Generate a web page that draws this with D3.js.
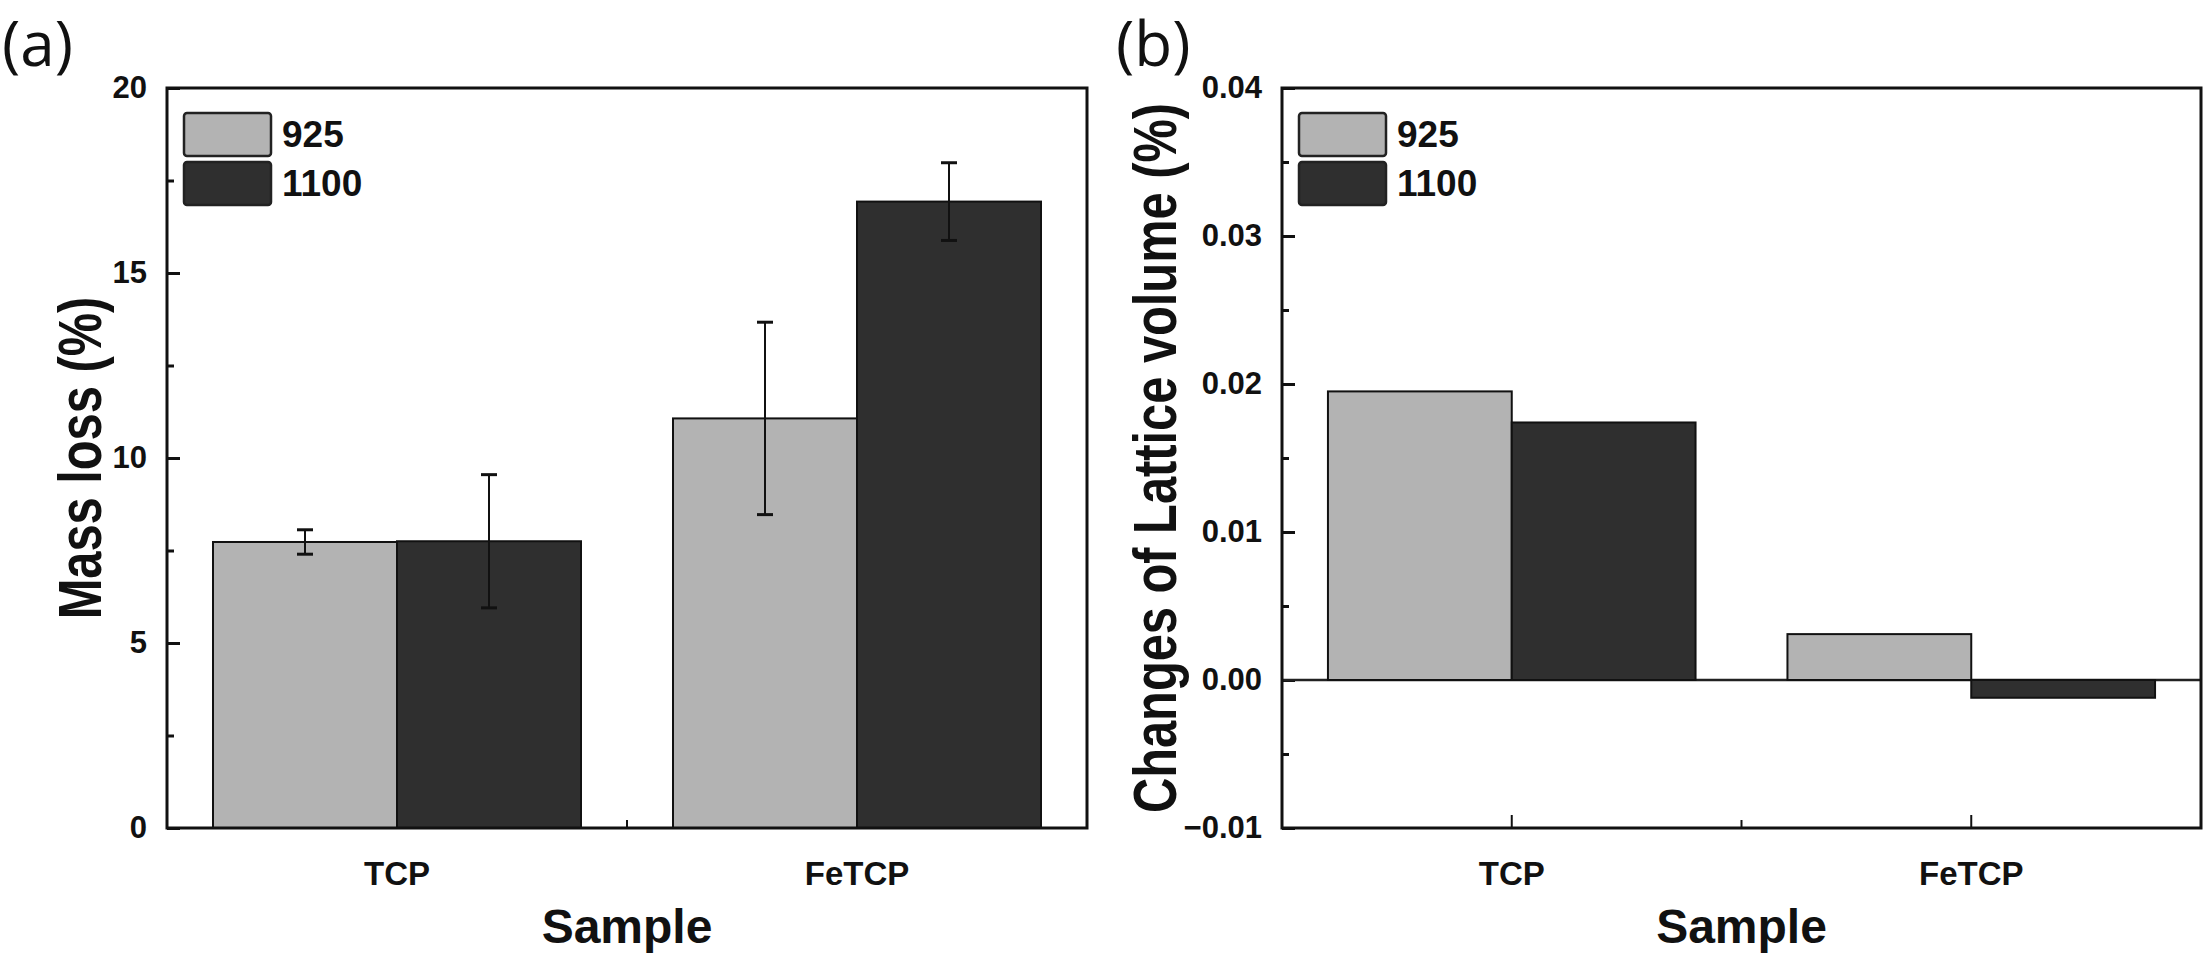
<!DOCTYPE html>
<html>
<head>
<meta charset="utf-8">
<script src="https://cdn.jsdelivr.net/npm/d3@7"></script>
<style>
  body { margin: 0; background: #fff; }
  text { font-family: "Liberation Sans", Arial, sans-serif; font-weight: bold; fill: #111; }
</style>
</head>
<body>
<div id="chart"></div>
<script>
// data
const categories = ["TCP", "FeTCP"];
const series = ["925", "1100"];
const massLoss925 = [7.73, 11.07];
const massLoss1100 = [7.75, 16.93];
const massErr925 = [0.33, 2.6];
const massErr1100 = [1.8, 1.05];
const lattice925 = [0.0195, 0.0031];
const lattice1100 = [0.0174, -0.0012];
const massTicks = [0, 5, 10, 15, 20];
const massMinor = [2.5, 7.5, 12.5, 17.5];
const latticeTicks = [-0.01, 0, 0.01, 0.02, 0.03, 0.04];
const latticeMinor = [-0.005, 0.005, 0.015, 0.025, 0.035];

const colors = { "925": "#b3b3b3", "1100": "#2f2f2f" };

const width = 2205, height = 957;

const svg = d3.select("#chart")
  .append("svg")
  .attr("width", width)
  .attr("height", height);

function drawPanel(p) {
  const g = svg.append("g");

  const x = d3.scaleBand()
    .domain(categories)
    .range([p.left, p.right]);

  const xSub = d3.scaleBand()
    .domain(series)
    .range([x.bandwidth() * 0.1, x.bandwidth() * 0.9]);

  const y = d3.scaleLinear()
    .domain(p.domain)
    .range([p.bottom, p.top]);

  // y axis, ticks pointing inward
  const yAxis = d3.axisLeft(y)
    .tickValues(p.ticks)
    .tickSize(-13)
    .tickPadding(20)
    .tickFormat(p.fmt);
  const yg = g.append("g")
    .attr("transform", `translate(${p.left},0)`)
    .call(yAxis);
  yg.select(".domain").remove();
  yg.selectAll(".tick line").attr("stroke", "#111").attr("stroke-width", 3);
  yg.selectAll("text")
    .attr("font-size", 31)
    .attr("font-family", "Liberation Sans, Arial, sans-serif")
    .attr("font-weight", "bold")
    .attr("fill", "#111");

  const yMinor = g.append("g")
    .attr("transform", `translate(${p.left},0)`)
    .call(d3.axisLeft(y).tickValues(p.minor).tickSize(-7).tickFormat(""));
  yMinor.select(".domain").remove();
  yMinor.selectAll(".tick line").attr("stroke", "#111").attr("stroke-width", 3);

  // x axis
  const xAxis = d3.axisBottom(x)
    .tickSize(-13)
    .tickPadding(34);
  const xg = g.append("g")
    .attr("transform", `translate(0,${p.bottom})`)
    .call(xAxis);
  xg.select(".domain").remove();
  xg.selectAll(".tick line").attr("stroke", "#111").attr("stroke-width", 2);
  xg.selectAll("text")
    .attr("font-size", 33)
    .attr("font-family", "Liberation Sans, Arial, sans-serif")
    .attr("font-weight", "bold")
    .attr("fill", "#111");

  // minor tick between the two samples
  g.append("line")
    .attr("x1", x(categories[1]))
    .attr("x2", x(categories[1]))
    .attr("y1", p.bottom)
    .attr("y2", p.bottom - 8)
    .attr("stroke", "#111")
    .attr("stroke-width", 2);

  // zero line
  if (p.domain[0] < 0) {
    g.append("line")
      .attr("x1", p.left)
      .attr("x2", p.right)
      .attr("y1", y(0))
      .attr("y2", y(0))
      .attr("stroke", "#222")
      .attr("stroke-width", 2.5);
  }

  // bars
  const rows = [];
  categories.forEach((c, i) => {
    series.forEach((s, j) => {
      rows.push({ cat: c, ser: s, value: p.values[j][i], err: p.errors ? p.errors[j][i] : null });
    });
  });

  g.selectAll("rect.bar")
    .data(rows)
    .join("rect")
    .attr("class", "bar")
    .attr("x", d => x(d.cat) + xSub(d.ser))
    .attr("width", xSub.bandwidth())
    .attr("y", d => Math.min(y(d.value), y(0)))
    .attr("height", d => Math.abs(y(d.value) - y(0)))
    .attr("fill", d => colors[d.ser])
    .attr("stroke", "#111")
    .attr("stroke-width", 2);

  // error bars
  if (p.errors) {
    const eb = g.selectAll("g.err")
      .data(rows)
      .join("g")
      .attr("class", "err")
      .attr("transform", d => `translate(${x(d.cat) + xSub(d.ser) + xSub.bandwidth() / 2},0)`);
    eb.append("line")
      .attr("y1", d => y(d.value + d.err))
      .attr("y2", d => y(d.value - d.err))
      .attr("stroke", "#111")
      .attr("stroke-width", 2);
    eb.append("line")
      .attr("x1", -8).attr("x2", 8)
      .attr("y1", d => y(d.value + d.err))
      .attr("y2", d => y(d.value + d.err))
      .attr("stroke", "#111")
      .attr("stroke-width", 3);
    eb.append("line")
      .attr("x1", -8).attr("x2", 8)
      .attr("y1", d => y(d.value - d.err))
      .attr("y2", d => y(d.value - d.err))
      .attr("stroke", "#111")
      .attr("stroke-width", 3);
  }

  // frame
  g.append("rect")
    .attr("x", p.left)
    .attr("y", p.top)
    .attr("width", p.right - p.left)
    .attr("height", p.bottom - p.top)
    .attr("fill", "none")
    .attr("stroke", "#111")
    .attr("stroke-width", 3);

  // legend
  const leg = g.selectAll("g.leg")
    .data(series)
    .join("g")
    .attr("class", "leg")
    .attr("transform", (d, i) => `translate(${p.left + 17},${113 + i * 49})`);
  leg.append("rect")
    .attr("width", 87)
    .attr("height", 43)
    .attr("rx", 3)
    .attr("fill", d => colors[d])
    .attr("stroke", "#222")
    .attr("stroke-width", 2.5);
  leg.append("text")
    .attr("x", 98)
    .attr("y", 34)
    .attr("font-size", 37)
    .text(d => d);

  // axis titles
  g.append("text")
    .attr("transform", `translate(${(p.left + p.right) / 2},943)`)
    .attr("text-anchor", "middle")
    .attr("font-size", 48)
    .text("Sample");

  g.append("text")
    .attr("transform", `translate(${p.titleX},${(p.top + p.bottom) / 2}) rotate(-90) scale(0.8,1)`)
    .attr("text-anchor", "middle")
    .attr("font-size", 61)
    .text(p.yTitle);

  // panel letter
  g.append("text")
    .attr("x", p.letterX)
    .attr("y", 66)
    .attr("font-size", 62)
    .attr("fill", "#222")
    .style("font-family", "'Open Sans', sans-serif")
    .style("font-weight", "normal")
    .text(p.letter);
}

drawPanel({
  left: 167, right: 1087, top: 88, bottom: 828,
  domain: [0, 20],
  ticks: massTicks,
  minor: massMinor,
  fmt: d3.format("d"),
  values: [massLoss925, massLoss1100],
  errors: [massErr925, massErr1100],
  yTitle: "Mass loss (%)",
  titleX: 101,
  letter: "(a)",
  letterX: 2
});

drawPanel({
  left: 1282, right: 2201, top: 88, bottom: 828,
  domain: [-0.01, 0.04],
  ticks: latticeTicks,
  minor: latticeMinor,
  fmt: d3.format(".2f"),
  values: [lattice925, lattice1100],
  errors: null,
  yTitle: "Changes of Lattice volume (%)",
  titleX: 1176,
  letter: "(b)",
  letterX: 1116
});
</script>
</body>
</html>
